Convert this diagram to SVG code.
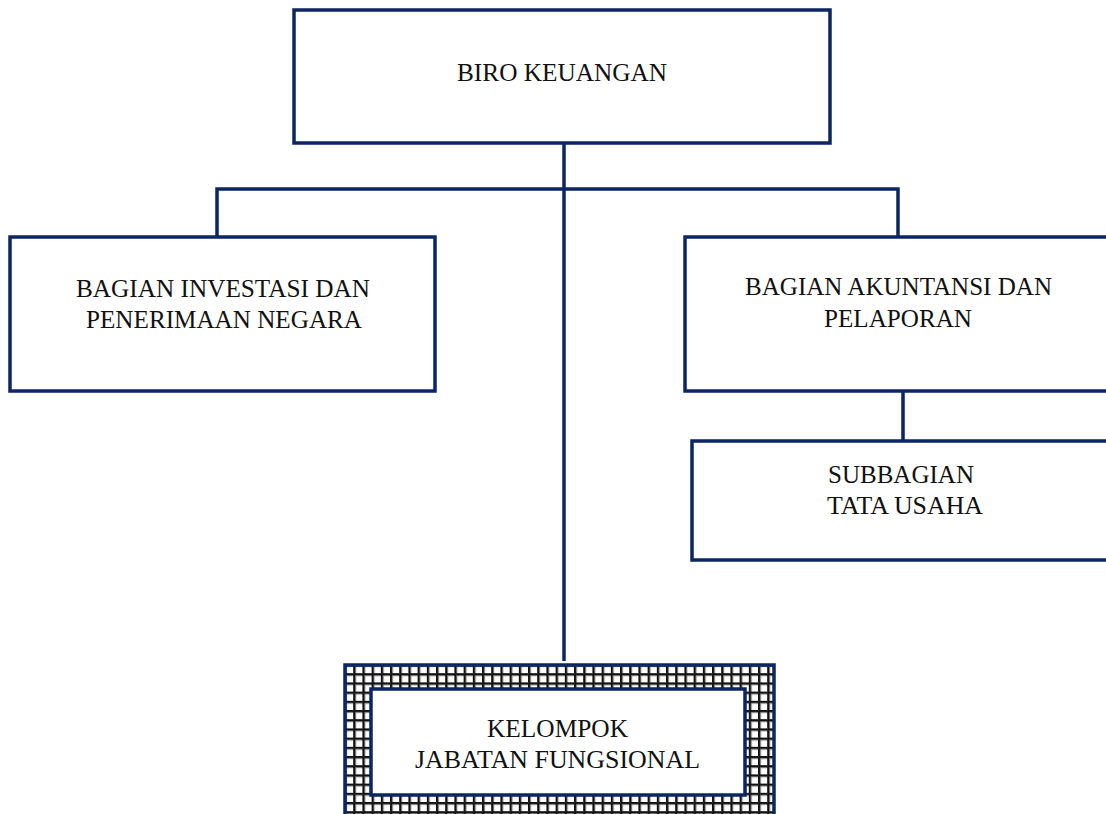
<svg xmlns="http://www.w3.org/2000/svg" width="1106" height="814" viewBox="0 0 1106 814">
<defs>
<pattern id="grid" patternUnits="userSpaceOnUse" x="344" y="664" width="9.2" height="9.2">
<rect width="9.2" height="9.2" fill="#ffffff"/>
<rect x="0" y="0" width="9.2" height="3" fill="#8a8a8a"/>
<rect x="0" y="0" width="3" height="9.2" fill="#8a8a8a"/>
<rect x="0.5" y="0" width="8.7" height="2" fill="#111111"/>
<rect x="0" y="0.5" width="2" height="8.7" fill="#111111"/>
</pattern>
<style>
.box{fill:#ffffff;stroke:#0b2663;stroke-width:3.5}
.ln{fill:none;stroke:#0b2663;stroke-width:3.5}
.t{font-family:"Liberation Serif","Times New Roman",serif;font-size:25px;fill:#111111;text-anchor:middle}
</style>
</defs>
<rect width="1106" height="814" fill="#ffffff"/>
<g id="connectors">
<line class="ln" x1="564" y1="143" x2="564" y2="661"/>
<polyline class="ln" points="217,237 217,189 898,189 898,237"/>
<line class="ln" x1="903" y1="391" x2="903" y2="441"/>
</g>
<g id="biro">
<rect class="box" x="294" y="10" width="536" height="133"/>
<text class="t" x="562" y="81" textLength="210" lengthAdjust="spacingAndGlyphs">BIRO KEUANGAN</text>
</g>
<g id="investasi">
<rect class="box" x="10" y="237" width="425" height="154"/>
<text class="t" x="223" y="297" textLength="294" lengthAdjust="spacingAndGlyphs">BAGIAN INVESTASI DAN</text>
<text class="t" x="224" y="328" textLength="276" lengthAdjust="spacingAndGlyphs">PENERIMAAN NEGARA</text>
</g>
<g id="akuntansi">
<rect class="box" x="685" y="237" width="428" height="154"/>
<text class="t" x="898.5" y="295" textLength="307" lengthAdjust="spacingAndGlyphs">BAGIAN AKUNTANSI DAN</text>
<text class="t" x="898" y="327" textLength="148" lengthAdjust="spacingAndGlyphs">PELAPORAN</text>
</g>
<g id="tatausaha">
<rect class="box" x="692" y="441" width="428" height="119"/>
<text class="t" x="901" y="483" textLength="146" lengthAdjust="spacingAndGlyphs">SUBBAGIAN</text>
<text class="t" x="905" y="514" textLength="156" lengthAdjust="spacingAndGlyphs">TATA USAHA</text>
</g>
<g id="fungsional">
<rect x="345" y="665" width="429" height="160" fill="url(#grid)" stroke="#0b2663" stroke-width="3.5"/>
<rect class="box" x="371" y="689" width="374" height="106"/>
<text class="t" x="557.5" y="737" textLength="141" lengthAdjust="spacingAndGlyphs">KELOMPOK</text>
<text class="t" x="557.5" y="768" textLength="285" lengthAdjust="spacingAndGlyphs">JABATAN FUNGSIONAL</text>
</g>
</svg>
